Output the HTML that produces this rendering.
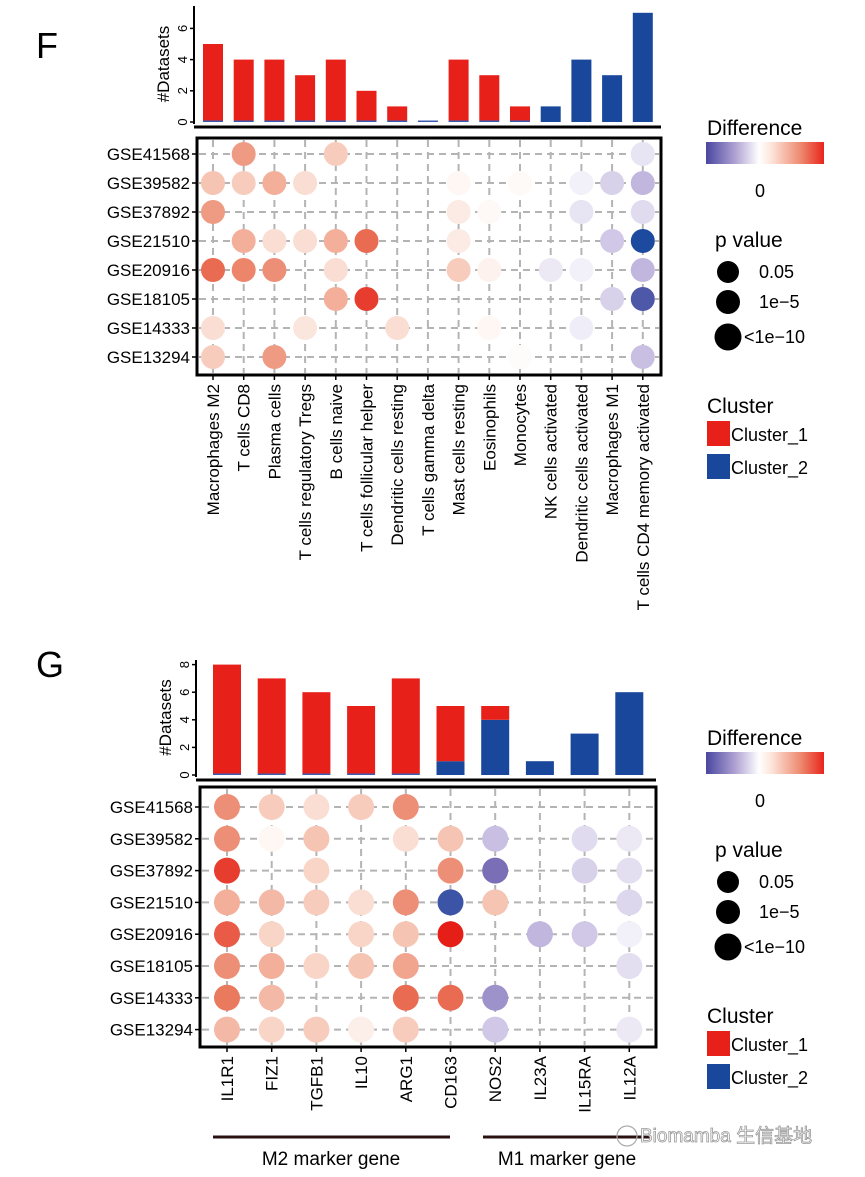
<!DOCTYPE html>
<html><head><meta charset="utf-8"><style>
body{margin:0;background:#fff;width:865px;height:1172px;overflow:hidden;font-family:"Liberation Sans","Noto Sans CJK SC",sans-serif}
svg text{font-family:"Liberation Sans","Noto Sans CJK SC",sans-serif}
</style></head><body>
<svg id="fig" width="865" height="1172" xmlns="http://www.w3.org/2000/svg">
<defs><linearGradient id="dg" x1="0" x2="1"><stop offset="0" stop-color="#4a46a0"/><stop offset="0.25" stop-color="#b0a3d3"/><stop offset="0.45" stop-color="#fff"/><stop offset="0.55" stop-color="#fde6dc"/><stop offset="0.8" stop-color="#ee8a70"/><stop offset="1" stop-color="#e8251c"/></linearGradient></defs>
<text x="36" y="58" font-size="36">F</text>
<text x="36" y="677" font-size="36">G</text>
</svg>
<script>
const fCats=["Macrophages M2","T cells CD8","Plasma cells","T cells regulatory  Tregs","B cells naive","T cells follicular helper","Dendritic cells resting","T cells gamma delta","Mast cells resting","Eosinophils","Monocytes","NK cells activated","Dendritic cells activated","Macrophages M1","T cells CD4 memory activated"];
const fRed=[5,4,4,3,4,2,1,0,4,3,1,0,0,0,0];
const fBlue=[0,0,0,0,0,0,0,0,0,0,0,1,4,3,7];
const rows=["GSE41568","GSE39582","GSE37892","GSE21510","GSE20916","GSE18105","GSE14333","GSE13294"];
const fTicks=[0,2,4,6];
const N=null;
const fDiff=[
[N,0.55,N,N,0.3,N,N,N,N,N,N,N,N,N,-0.15],
[0.35,0.3,0.45,0.2,N,N,N,N,0.05,N,0.03,N,-0.08,-0.25,-0.4],
[0.55,N,N,N,N,N,N,N,0.12,0.04,N,N,-0.15,N,-0.2],
[N,0.45,0.2,0.2,0.45,0.75,N,N,0.12,N,N,N,N,-0.3,-1],
[0.75,0.65,0.6,N,0.2,N,N,N,0.3,0.08,N,-0.12,-0.08,N,-0.4],
[N,N,N,N,0.45,0.9,N,N,N,N,N,N,N,-0.25,-0.85],
[0.2,N,N,0.15,N,N,0.2,N,N,0.05,N,N,-0.1,N,N],
[0.3,N,0.55,N,N,N,N,N,N,N,0.02,N,N,N,-0.35]];
const gCats=["IL1R1","FIZ1","TGFB1","IL10","ARG1","CD163","NOS2","IL23A","IL15RA","IL12A"];
const gRed=[8,7,6,5,7,4,1,0,0,0];
const gBlue=[0,0,0,0,0,1,4,1,3,6];
const gTicks=[0,2,4,6,8];
const gDiff=[
[0.6,0.3,0.2,0.3,0.6,N,N,N,N,N],
[0.6,0.05,0.35,N,0.2,0.35,-0.35,N,-0.2,-0.12],
[0.9,N,0.25,N,N,0.6,-0.7,N,-0.25,-0.18],
[0.45,0.4,0.3,0.2,0.6,-0.9,0.35,N,N,-0.22],
[0.8,0.25,N,0.25,0.35,1,N,-0.4,-0.3,-0.08],
[0.6,0.45,0.25,0.35,0.5,N,N,N,N,-0.18],
[0.7,0.4,N,N,0.75,0.75,-0.55,N,N,N],
[0.4,0.25,0.3,0.1,0.3,N,-0.3,N,N,-0.12]];

const NS="http://www.w3.org/2000/svg",svg=document.getElementById('fig');
function mk(t,a,p){const e=document.createElementNS(NS,t);for(const k in a)e.setAttribute(k,a[k]);(p||svg).appendChild(e);return e;}
const redStops=[[0,[255,255,255]],[0.35,[246,196,178]],[0.7,[234,122,94]],[1,[230,30,24]]];
const bluStops=[[0,[255,255,255]],[0.4,[192,182,222]],[0.75,[110,98,176]],[1,[27,74,158]]];
function interp(st,t){for(let k=1;k<st.length;k++){if(t<=st[k][0]){const a=st[k-1],b=st[k],u=(t-a[0])/(b[0]-a[0]);return 'rgb('+a[1].map((c,i)=>Math.round(c+(b[1][i]-c)*u)).join(',')+')';}}return 'rgb('+st[st.length-1][1].join(',')+')';}
function col(v){return v>=0?interp(redStops,v):interp(bluStops,-v);}

function panel(o){
  const cats=o.cats;
  const xc=i=>o.x0+i*o.dx;
  const yb=v=>o.base-v*o.unit;
  let e=mk('line',{x1:o.axX,y1:o.barTop,x2:o.axX,y2:o.base+2,stroke:'#000','stroke-width':2});
  
  mk('line',{x1:o.axX,y1:o.base+5,x2:o.boxR,y2:o.base+5,stroke:'#000','stroke-width':3});
  o.ticks.forEach(t=>{
    mk('line',{x1:o.axX-4,y1:yb(t),x2:o.axX,y2:yb(t),stroke:'#000','stroke-width':1.5});
    const tx=mk('text',{x:o.axX-7,y:yb(t),'font-size':13,'text-anchor':'middle',transform:`rotate(-90 ${o.axX-7} ${yb(t)})`});tx.textContent=t;
    
  });
  const yl=mk('text',{x:o.axX-25,y:(o.barTop+o.base)/2,'font-size':17,'text-anchor':'middle',transform:`rotate(-90 ${o.axX-25} ${(o.barTop+o.base)/2})`});yl.textContent='#Datasets';
  
  cats.forEach((c,i)=>{
    const b=o.blue[i],r=o.red[i];
    if(b>0){const br=mk('rect',{x:xc(i)-o.bw/2,y:yb(b),width:o.bw,height:b*o.unit,fill:'#18479b'});}
    else mk('rect',{x:xc(i)-o.bw/2,y:o.base-1.5,width:o.bw,height:1.5,fill:'#3a5bb0'});
    if(r>0){const rr=mk('rect',{x:xc(i)-o.bw/2,y:yb(b+r),width:o.bw,height:r*o.unit-(b>0?0:1.5),fill:'#e8201a'});}
  });
  const bx=mk('rect',{x:o.boxL,y:o.boxT,width:o.boxR-o.boxL,height:o.boxB-o.boxT,fill:'none',stroke:'#000','stroke-width':3});
  
  const yr=j=>o.y0+j*o.dy;
  rows.forEach((r,j)=>{
    mk('line',{x1:o.boxL+2,y1:yr(j),x2:o.boxR-2,y2:yr(j),stroke:'#b4b4b4','stroke-width':2,'stroke-dasharray':'7,5'});
    mk('line',{x1:o.boxL-5,y1:yr(j),x2:o.boxL,y2:yr(j),stroke:'#000','stroke-width':1.5});
    const t=mk('text',{x:o.boxL-7,y:yr(j)+6,'font-size':17,'text-anchor':'end'});t.textContent=r;
    
  });
  cats.forEach((c,i)=>{
    mk('line',{x1:xc(i),y1:o.boxT+2,x2:xc(i),y2:o.boxB-2,stroke:'#b4b4b4','stroke-width':2,'stroke-dasharray':'7,5'});
    mk('line',{x1:xc(i),y1:o.boxB,x2:xc(i),y2:o.boxB+5,stroke:'#000','stroke-width':1.5});
    const ly=o.boxB+9;
    const t=mk('text',{x:xc(i)+6,y:ly,'font-size':17,'text-anchor':'end',transform:`rotate(-90 ${xc(i)+6} ${ly})`});t.textContent=c;
    
  });
  o.diff.forEach((row,j)=>row.forEach((v,i)=>{
    if(v===null)return;
    const d=mk('circle',{cx:xc(i),cy:yr(j),r:o.r,fill:col(v)});
    
  }));
  const L=o.leg;
  let t=mk('text',{x:707,y:L+8,'font-size':21});t.textContent='Difference';
  mk('rect',{x:706,y:L+15,width:118,height:22,fill:'url(#dg)'});
  t=mk('text',{x:755,y:L+70,'font-size':18});t.textContent='0';
  t=mk('text',{x:715,y:L+120,'font-size':21});t.textContent='p value';
  [[L+145,11,'0.05'],[L+175,12,'1e−5'],[L+210,13.5,'<1e−10']].forEach((p,k)=>{
    mk('circle',{cx:728,cy:p[0],r:p[1],fill:'#000'});
    const tt=mk('text',{x:k==2?744:759,y:p[0]+6,'font-size':18});tt.textContent=p[2];
    
  });
  t=mk('text',{x:707,y:L+286,'font-size':21});t.textContent='Cluster';
  mk('rect',{x:707,y:L+294,width:23,height:25,fill:'#e8201a'});
  t=mk('text',{x:731,y:L+314,'font-size':18});t.textContent='Cluster_1';
  mk('rect',{x:707,y:L+327,width:23,height:25,fill:'#18479b'});
  t=mk('text',{x:731,y:L+347,'font-size':18});t.textContent='Cluster_2';
}
panel({cats:fCats,red:fRed,blue:fBlue,diff:fDiff,ticks:fTicks,x0:213,dx:30.7,bw:20,axX:194,barTop:6,base:122,unit:15.6,boxL:197,boxR:661,boxT:138,boxB:375,y0:154,dy:29,r:12,leg:127});
panel({cats:gCats,red:gRed,blue:gBlue,diff:gDiff,ticks:gTicks,x0:227,dx:44.7,bw:28,axX:196,barTop:660,base:775,unit:13.8,boxL:200,boxR:656,boxT:787,boxB:1047,y0:807,dy:31.8,r:13,leg:737});
let e=mk('line',{x1:213,y1:1137,x2:450,y2:1137,stroke:'#2a1010','stroke-width':3});
e=mk('line',{x1:483,y1:1137,x2:650,y2:1137,stroke:'#2a1010','stroke-width':3});
e=mk('text',{x:331,y:1165,'font-size':19,'text-anchor':'middle'});e.textContent='M2 marker gene';
e=mk('text',{x:567,y:1165,'font-size':19,'text-anchor':'middle'});e.textContent='M1 marker gene';
e=mk('text',{x:640,y:1142,'font-size':19,fill:'#fff',stroke:'#9a9a9a','stroke-width':0.8});e.textContent='Biomamba 生信基地';
mk('circle',{cx:627,cy:1136,r:10,fill:'none',stroke:'#aaa','stroke-width':1.2});
</script>
</body></html>
